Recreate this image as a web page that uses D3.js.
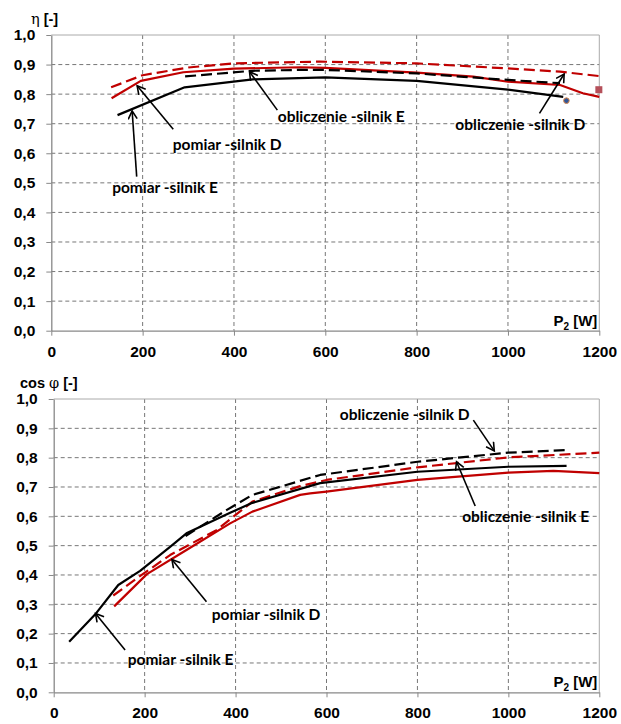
<!DOCTYPE html>
<html>
<head>
<meta charset="utf-8">
<script src="https://cdn.jsdelivr.net/npm/d3@7"></script>
<style>
  body { margin: 0; background: #fff; }
  svg { display: block; }
</style>
</head>
<body>
<svg></svg>
<script>
let width = 621, height = 724;

// Tick values
let pTicks = [0, 200, 400, 600, 800, 1000, 1200];
let vTicks = [0, 0.1, 0.2, 0.3, 0.4, 0.5, 0.6, 0.7, 0.8, 0.9, 1.0];

// Efficiency η vs P2 [W]
let etaPomiarE = [[145, 0.729], [292, 0.823], [441, 0.850], [600, 0.857], [800, 0.845], [1000, 0.815], [1121, 0.791]];
let etaPomiarD = [[132, 0.786], [196, 0.845], [289, 0.874], [400, 0.886], [544, 0.891], [600, 0.889], [800, 0.873], [924, 0.859], [1000, 0.842], [1114, 0.831], [1164, 0.803], [1200, 0.791]];
let etaOblE = [[293, 0.860], [441, 0.879], [545, 0.882], [600, 0.882], [800, 0.870], [1000, 0.848], [1114, 0.837]];
let etaOblD = [[131, 0.823], [200, 0.864], [300, 0.890], [398, 0.904], [588, 0.910], [800, 0.904], [1000, 0.887], [1114, 0.876], [1200, 0.861]];
let etaDot = [[1128, 0.778]];
let etaSquare = [[1199, 0.815]];

// Power factor cos φ vs P2 [W]
let cosPomiarE = [[34, 0.172], [93, 0.269], [142, 0.366], [190, 0.414], [256, 0.496], [292, 0.542], [347, 0.582], [388, 0.612], [437, 0.646], [586, 0.713], [800, 0.752], [1000, 0.769], [1128, 0.772]];
let cosPomiarD = [[133, 0.293], [205, 0.403], [292, 0.485], [388, 0.576], [437, 0.616], [542, 0.673], [564, 0.678], [600, 0.684], [800, 0.724], [1000, 0.749], [1099, 0.755], [1200, 0.747]];
let cosOblE = [[290, 0.533], [380, 0.621], [437, 0.673], [586, 0.741], [800, 0.786], [1000, 0.817], [1128, 0.826]];
let cosOblD = [[131, 0.330], [186, 0.392], [256, 0.468], [358, 0.553], [437, 0.650], [542, 0.703], [600, 0.724], [800, 0.767], [1000, 0.801], [1200, 0.817]];

// Annotations (data units): label centre, arrow start, arrow tip
let etaNotes = [
  { text: "pomiar -silnik D", at: [385, 0.631], from: [267, 0.681], to: [188, 0.828] },
  { text: "pomiar -silnik E", at: [249, 0.483], from: [187, 0.521], to: [177, 0.743] },
  { text: "obliczenie -silnik E", at: [635, 0.723], from: [495, 0.746], to: [434, 0.876] },
  { text: "obliczenie -silnik D", at: [1027, 0.696], from: [1069, 0.735], to: [1123, 0.868] }
];
let cosNotes = [
  { text: "obliczenie -silnik D", at: [772, 0.948], from: [923, 0.928], to: [969, 0.823] },
  { text: "obliczenie -silnik E", at: [1038, 0.599], from: [927, 0.635], to: [886, 0.786] },
  { text: "pomiar -silnik D", at: [467, 0.264], from: [336, 0.309], to: [260, 0.453] },
  { text: "pomiar -silnik E", at: [279, 0.110], from: [157, 0.144], to: [92, 0.269] }
];

let svg = d3.select("svg")
    .attr("width", width)
    .attr("height", height)
    .attr("viewBox", "0 0 " + width + " " + height);

svg.append("defs").append("marker")
    .attr("id", "arrow")
    .attr("markerUnits", "userSpaceOnUse")
    .attr("markerWidth", 14).attr("markerHeight", 14)
    .attr("refX", 9).attr("refY", 5)
    .attr("orient", "auto")
    .append("path")
    .attr("d", "M1,0.5 L9,5 L1,9.5")
    .attr("fill", "none")
    .attr("stroke", "#000")
    .attr("stroke-width", 1.6);

let tickFont = "'Liberation Sans', Arial, sans-serif";
let noteFont = "Lato, 'Open Sans', sans-serif";

function drawPanel(cfg) {
  let x = d3.scaleLinear().domain([0, 1200]).range([cfg.left, cfg.right]);
  let y = d3.scaleLinear().domain([0, 1]).range([cfg.bottom, cfg.top]);
  let g = svg.append("g");

  // dashed grid
  g.append("g").selectAll("line")
    .data(vTicks.slice(1, -1))
    .enter().append("line")
    .attr("x1", cfg.left).attr("x2", cfg.right)
    .attr("y1", d => y(d)).attr("y2", d => y(d))
    .attr("stroke", "#777").attr("stroke-width", 1)
    .attr("stroke-dasharray", "4,3");
  g.append("g").selectAll("line")
    .data(pTicks.slice(1, -1))
    .enter().append("line")
    .attr("x1", d => x(d)).attr("x2", d => x(d))
    .attr("y1", cfg.top).attr("y2", cfg.bottom)
    .attr("stroke", "#777").attr("stroke-width", 1)
    .attr("stroke-dasharray", "4,3");

  // frame
  g.append("line").attr("x1", cfg.left).attr("x2", cfg.right)
    .attr("y1", cfg.top).attr("y2", cfg.top)
    .attr("stroke", "#aaa").attr("stroke-width", 1);
  g.append("line").attr("x1", cfg.right).attr("x2", cfg.right)
    .attr("y1", cfg.top).attr("y2", cfg.bottom)
    .attr("stroke", "#aaa").attr("stroke-width", 1);

  // axes
  let xAxis = g.append("g")
    .attr("transform", "translate(0," + cfg.bottom + ")")
    .call(d3.axisBottom(x).tickValues(pTicks).tickSize(5).tickPadding(10).tickSizeOuter(0)
      .tickFormat(d3.format("d")));
  let yAxis = g.append("g")
    .attr("transform", "translate(" + cfg.left + ",0)")
    .call(d3.axisLeft(y).tickValues(vTicks).tickSize(5).tickPadding(11).tickSizeOuter(0)
      .tickFormat(d => d3.format(".1f")(d).replace(".", ",")));
  [xAxis, yAxis].forEach(a => {
    a.select(".domain").attr("stroke", "#888").attr("stroke-width", 1.3);
    a.selectAll(".tick line").attr("stroke", "#888");
    a.selectAll("text")
      .attr("fill", "#000")
      .style("font-family", tickFont)
      .style("font-weight", "bold")
      .style("font-size", "15.5px");
  });

  // curves
  let line = d3.line().x(d => x(d[0])).y(d => y(d[1]));
  cfg.series.forEach(s => {
    g.append("path")
      .datum(s.data)
      .attr("d", line)
      .attr("fill", "none")
      .attr("stroke", s.color)
      .attr("stroke-width", 2.2)
      .attr("stroke-linejoin", "round")
      .attr("stroke-dasharray", s.dash ? "11,5" : null);
  });

  // stray markers
  if (cfg.dots) {
    g.selectAll(".dot").data(cfg.dots).enter().append("circle")
      .attr("cx", d => x(d[0])).attr("cy", d => y(d[1])).attr("r", 2.8)
      .attr("fill", "#2f5597").attr("stroke", "#e08a4a").attr("stroke-width", 1);
  }
  if (cfg.squares) {
    g.selectAll(".sq").data(cfg.squares).enter().append("rect")
      .attr("x", d => x(d[0]) - 3.5).attr("y", d => y(d[1]) - 3.5)
      .attr("width", 7).attr("height", 7)
      .attr("fill", "#b5505a");
  }

  // annotations
  cfg.notes.forEach(n => {
    g.append("line")
      .attr("x1", x(n.from[0])).attr("y1", y(n.from[1]))
      .attr("x2", x(n.to[0])).attr("y2", y(n.to[1]))
      .attr("stroke", "#000").attr("stroke-width", 1.6)
      .attr("marker-end", "url(#arrow)");
    g.append("text")
      .attr("x", x(n.at[0])).attr("y", y(n.at[1]))
      .attr("dy", "0.35em")
      .attr("text-anchor", "middle")
      .style("font-family", noteFont)
      .style("font-weight", "bold")
      .style("font-size", "15.5px")
      .text(n.text);
  });

  // axis titles
  let yt = svg.append("text")
    .attr("x", cfg.yTitleX).attr("y", cfg.top - 11)
    .style("font-family", tickFont)
    .style("font-size", "14.5px")
    .style("font-weight", "bold");
  yt.append("tspan").text(cfg.yTitle);
  yt.append("tspan").style("font-weight", "normal").style("font-family", "'DejaVu Serif', serif").text(cfg.ySymbol);
  yt.append("tspan").text(" [-]");

  let xt = svg.append("text")
    .attr("x", cfg.right - 2).attr("y", cfg.bottom - 5)
    .attr("text-anchor", "end")
    .style("font-family", tickFont)
    .style("font-size", "15px")
    .style("font-weight", "bold");
  xt.append("tspan").text("P");
  xt.append("tspan").attr("dy", 4).style("font-size", "10px").text("2");
  xt.append("tspan").attr("dy", -4).text(" [W]");
}

drawPanel({
  left: 51.3, right: 599.3, top: 35, bottom: 330.7,
  yTitle: "", ySymbol: "η", yTitleX: 31,
  series: [
    { data: etaOblD, color: "#c00000", dash: true },
    { data: etaPomiarD, color: "#c00000", dash: false },
    { data: etaOblE, color: "#000", dash: true },
    { data: etaPomiarE, color: "#000", dash: false }
  ],
  dots: etaDot, squares: etaSquare,
  notes: etaNotes
});

drawPanel({
  left: 53.7, right: 599.3, top: 399, bottom: 692.3,
  yTitle: "cos ", ySymbol: "φ", yTitleX: 20,
  series: [
    { data: cosOblD, color: "#c00000", dash: true },
    { data: cosPomiarD, color: "#c00000", dash: false },
    { data: cosOblE, color: "#000", dash: true },
    { data: cosPomiarE, color: "#000", dash: false }
  ],
  notes: cosNotes
});
</script>
</body>
</html>
